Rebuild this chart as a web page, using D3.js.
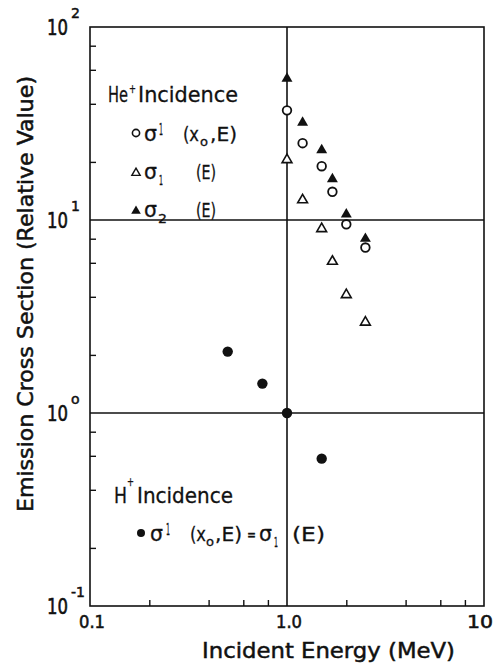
<!DOCTYPE html>
<html>
<head>
<meta charset="utf-8">
<script src="https://cdn.jsdelivr.net/npm/d3@7"></script>
<style>
  body { margin: 0; background: #fff; }
  text { font-family: "DejaVu Sans", "Liberation Sans", sans-serif; fill: #111; }
</style>
</head>
<body>
<div id="chart"></div>
<script>
// He+ incidence, energies in MeV
var energyHe = [1.0, 1.2, 1.5, 1.7, 2.0, 2.5];
var sigmaUpper = [37, 25, 19, 14, 9.5, 7.2];      // open circles  sigma^1(x0,E)
var sigmaOne = [20.5, 12.7, 9.0, 6.1, 4.1, 2.95]; // open triangles sigma_1(E)
var sigmaTwo = [54, 32, 23, 16.3, 10.7, 8.0];     // filled triangles sigma_2(E)

// H+ incidence
var energyH = [0.5, 0.75, 1.0, 1.5];
var sigmaH = [2.08, 1.42, 1.0, 0.58];

var xTicks = [0.1, 1.0, 10];
var xTickLabels = ["0.1", "1.0", "10"];
var yTicks = [0.1, 1, 10, 100];
var yTickExp = ["-1", "o", "1", "2"];
var minorTicks = [0.2, 0.4, 0.6, 0.8, 2, 4, 6, 8, 20, 40, 60, 80];

var W = 495, H = 668;
var pLeft = 90, pRight = 484, pTop = 27, pBottom = 606;

var svg = d3.select("#chart").append("svg")
    .attr("width", W)
    .attr("height", H);

var x = d3.scaleLog().domain([0.1, 10]).range([pLeft, pRight]);
var y = d3.scaleLog().domain([0.1, 100]).range([pBottom, pTop]);

// minor ticks, inward, left and bottom only
svg.append("g")
    .attr("transform", "translate(" + pLeft + ",0)")
    .call(d3.axisLeft(y).tickValues(minorTicks.filter(function (v) { return v < 100; })).tickSize(-6).tickFormat(""))
    .call(function (g) { g.select(".domain").remove(); })
    .selectAll("line").attr("stroke", "#111").attr("stroke-width", 1.4);

svg.append("g")
    .attr("transform", "translate(0," + pBottom + ")")
    .call(d3.axisBottom(x).tickValues(minorTicks.filter(function (v) { return v < 10; })).tickSize(-6).tickFormat(""))
    .call(function (g) { g.select(".domain").remove(); })
    .selectAll("line").attr("stroke", "#111").attr("stroke-width", 1.4);

// frame
svg.append("rect")
    .attr("x", pLeft)
    .attr("y", pTop)
    .attr("width", pRight - pLeft)
    .attr("height", pBottom - pTop)
    .attr("fill", "none")
    .attr("stroke", "#111")
    .attr("stroke-width", 1.6);

// grid lines at 1.0 MeV, 10^0 and 10^1
svg.append("line")
    .attr("x1", x(1)).attr("x2", x(1))
    .attr("y1", pTop).attr("y2", pBottom)
    .attr("stroke", "#111").attr("stroke-width", 1.6);
[1, 10].forEach(function (v) {
    svg.append("line")
        .attr("x1", pLeft).attr("x2", pRight)
        .attr("y1", y(v)).attr("y2", y(v))
        .attr("stroke", "#111").attr("stroke-width", 1.6);
});

// y tick labels 10^n
yTicks.forEach(function (v, i) {
    svg.append("text")
        .attr("x", 47)
        .attr("y", y(v) + 8)
        .attr("font-size", 21)
        .attr("textLength", 21)
        .attr("lengthAdjust", "spacingAndGlyphs")
        .attr("stroke", "#111").attr("stroke-width", 0.6)
        .text("10");
    svg.append("text")
        .attr("x", 71)
        .attr("y", y(v) - 9)
        .attr("font-size", 14)
        .attr("stroke", "#111").attr("stroke-width", 0.5)
        .text(yTickExp[i]);
});

// x tick labels
xTicks.forEach(function (v, i) {
    svg.append("text")
        .attr("x", x(v) + (i == 2 ? -4 : 2))
        .attr("y", 628)
        .attr("text-anchor", "middle")
        .attr("font-size", 18)
        .attr("textLength", 26)
        .attr("lengthAdjust", "spacingAndGlyphs")
        .attr("stroke", "#111").attr("stroke-width", 0.6)
        .text(xTickLabels[i]);
});

// axis titles
svg.append("text")
    .attr("x", 202)
    .attr("y", 658)
    .attr("font-size", 22)
    .attr("textLength", 253)
    .attr("lengthAdjust", "spacingAndGlyphs")
    .attr("stroke", "#111").attr("stroke-width", 0.5)
    .text("Incident  Energy  (MeV)");

svg.append("text")
    .attr("transform", "translate(33,294) rotate(-90)")
    .attr("text-anchor", "middle")
    .attr("font-size", 21)
    .attr("textLength", 436)
    .attr("lengthAdjust", "spacingAndGlyphs")
    .attr("stroke", "#111").attr("stroke-width", 0.5)
    .text("Emission  Cross  Section  (Relative  Value)");

// marks
var plot = svg.append("g");
var triOpen = d3.symbol().type(d3.symbolTriangle).size(42);
var triFill = d3.symbol().type(d3.symbolTriangle).size(52);

plot.selectAll(".sig2")
    .data(energyHe)
    .enter()
    .append("path")
    .attr("class", "sig2")
    .attr("d", triFill)
    .attr("transform", function (d, i) {
        return "translate(" + x(d) + "," + y(sigmaTwo[i]) + ")";
    })
    .attr("fill", "#111");

plot.selectAll(".sigUp")
    .data(energyHe)
    .enter()
    .append("circle")
    .attr("class", "sigUp")
    .attr("cx", function (d) { return x(d); })
    .attr("cy", function (d, i) { return y(sigmaUpper[i]); })
    .attr("r", 4.3)
    .attr("fill", "#fff")
    .attr("stroke", "#111")
    .attr("stroke-width", 1.8);

plot.selectAll(".sig1")
    .data(energyHe)
    .enter()
    .append("path")
    .attr("class", "sig1")
    .attr("d", triOpen)
    .attr("transform", function (d, i) {
        return "translate(" + x(d) + "," + y(sigmaOne[i]) + ")";
    })
    .attr("fill", "#fff")
    .attr("stroke", "#111")
    .attr("stroke-width", 1.6);

plot.selectAll(".sigH")
    .data(energyH)
    .enter()
    .append("circle")
    .attr("class", "sigH")
    .attr("cx", function (d) { return x(d); })
    .attr("cy", function (d, i) { return y(sigmaH[i]); })
    .attr("r", 5.2)
    .attr("fill", "#111");

// legend text pieces
var piece = function (str, px, py, size, len) {
    var t = svg.append("text")
        .attr("x", px)
        .attr("y", py)
        .attr("font-size", size)
        .attr("stroke", "#111")
        .attr("stroke-width", 0.3)
        .text(str);
    if (len) {
        t.attr("textLength", len).attr("lengthAdjust", "spacingAndGlyphs");
    }
    return t;
};

// He+ block
piece("He", 108, 102, 21, 20);
piece("+", 129, 93, 12, 7);
piece("Incidence", 138, 102, 21, 100);

svg.append("circle").attr("cx", 136).attr("cy", 133).attr("r", 3.6)
    .attr("fill", "#fff").attr("stroke", "#111").attr("stroke-width", 1.6);
piece("σ", 144, 141, 22, 13);
piece("1", 159, 135, 15, 4);
piece("(x", 183, 141, 20, 16);
piece("o", 200, 146, 13, 8);
piece(",E)", 210, 141, 20, 27);

svg.append("path").attr("d", d3.symbol().type(d3.symbolTriangle).size(30))
    .attr("transform", "translate(136,173)")
    .attr("fill", "#fff").attr("stroke", "#111").attr("stroke-width", 1.4);
piece("σ", 144, 179, 22, 13);
piece("1", 159, 185, 14, 4);
piece("(E)", 196, 179, 20, 20);

svg.append("path").attr("d", d3.symbol().type(d3.symbolTriangle).size(40))
    .attr("transform", "translate(136,211)")
    .attr("fill", "#111");
piece("σ", 144, 217, 22, 13);
piece("2", 158, 223, 13, 9);
piece("(E)", 196, 217, 20, 20);

// H+ block
piece("H", 114, 503, 21, 13);
piece("+", 127, 486, 13, 7);
piece("Incidence", 137, 503, 21, 96);

svg.append("circle").attr("cx", 141).attr("cy", 533).attr("r", 4)
    .attr("fill", "#111");
piece("σ", 150, 541, 22, 13);
piece("1", 166, 535, 15, 4);
piece("(x", 190, 541, 20, 16);
piece("o", 206, 546, 13, 8);
piece(",E)", 215, 541, 20, 27);
piece("=", 247, 540, 16, 9);
piece("σ", 259, 541, 22, 13);
piece("1", 274, 547, 14, 4);
piece("(E)", 292, 541, 20, 33);
</script>
</body>
</html>
